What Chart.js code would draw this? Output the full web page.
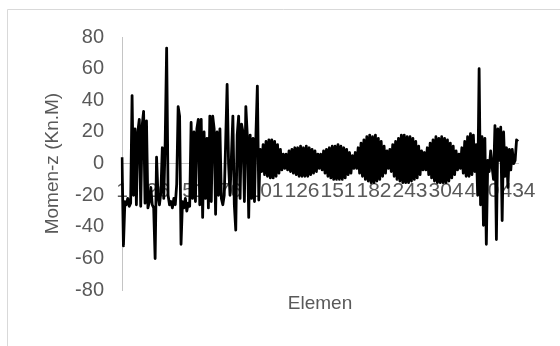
<!DOCTYPE html>
<html lang="id">
<head>
<meta charset="utf-8">
<title>Momen-z per Elemen</title>
<script src="https://cdn.jsdelivr.net/npm/chart.js@4.4.1/dist/chart.umd.min.js"></script>
<style>
  html, body { margin: 0; padding: 0; background: #fff; }
  #wrap { position: relative; width: 560px; height: 346px; }
</style>
</head>
<body>
<div id="wrap"><canvas id="momentChart"></canvas></div>
<script>
// Tick labels shown on the category axis (one every 25 elements)
const tickLabels = ['1', '26', '51', '76', '101', '126', '151', '182', '243', '304', '400', '434'];
const labelStep = 25;

// Momen-z (Kn.M), element by element
const momentStart = [
    4, -52, -24, -26, -22, -27, -25, 43, -20, 22,
    -26, 20, 28, -27, 24, 33, -25, 27, -28, -24,
    -15, -26, -28, -60, 4, -20, -26, -18, 10, -22,
    14, 73, -20, -26, -24, -28, -22, -26, -13, 36,
    30, -51, -24, -28, -22, -30, -25, -27, 26, -22,
    20, -24, 22, 28, -26, 28, -34, 20, -22, 16,
    -28, 30, -24, 30, 22, -32, 20, -20, 22, -22,
    -26, -20, 14, 50, 0, -20, 5, 30, -26, -42,
    18, 30, -22, 25, 20, -24, 36, 18, -34, 18,
    -22, 16, -24, 18, 49, -23
];

const momentMiddle = [
    9, -5, 12, -7, 14, -8, 15, -9, 15, -9, 14, -8, 12, -6, 9, -4,
    6, -3,
    6, -4, 8, -5, 9, -6, 10, -7, 10, -8, 11, -8, 10, -8, 11, -8, 10, -7, 9, -6, 8, -5, 6, -3,
    6, -4, 8, -6, 9, -8, 10, -9, 11, -10, 11, -10, 12, -10, 11, -10, 10, -9, 9, -7, 7, -6, 5, -3,
    7, -3, 10, -6, 13, -8, 15, -10, 17, -11, 18, -12, 17, -12, 18, -11, 16, -10, 14, -8, 11, -6, 8,
    -3, 9, -5, 12, -8, 14, -10, 16, -11, 18, -12, 18, -12, 17, -12, 17, -11, 16, -10, 14, -9, 11, -7, 8, -4,
    7, -4, 10, -7, 13, -9, 15, -11, 17, -12, 16, -12, 17, -12, 16, -12, 15, -11, 13, -9, 11, -7, 8, -4, 6,
    -3, 10, -6, 14, -8, 17, -8, 19, -7, 18, -5, 12, -20
];

const momentEnd = [
    60, -26, 17, -39, 16, -51, 2, -5, 8, -2,
    -10, 24, -48, 22, 2, 23, -36, 20, -8, 10,
    -15, 9, -4, 9, 0, 2, 15, 14
];

const momentValues = [...momentStart, ...momentMiddle, ...momentEnd];
const elementLabels = momentValues.map((v, i) => (i % labelStep === 0 ? tickLabels[i / labelStep] : ''));

const fontFamily = "'Liberation Sans', Arial, sans-serif";
const textColor = '#595959';
const axisColor = '#c4c4c4';

/**
 * White background plus the thin outer frame of the chart object
 */
const chartFrame = {
    id: 'chartFrame',
    beforeDraw(chart) {
        const ctx = chart.ctx;
        ctx.save();
        ctx.fillStyle = '#ffffff';
        ctx.fillRect(0, 0, chart.width, chart.height);
        ctx.strokeStyle = '#d9d9d9';
        ctx.lineWidth = 1;
        ctx.beginPath();
        ctx.moveTo(7.5, chart.height);
        ctx.lineTo(7.5, 9.5);
        ctx.lineTo(chart.width, 9.5);
        ctx.stroke();
        ctx.restore();
    }
};

/**
 * Build the line chart
 */
function initializeMomentChart(canvasId) {
    const canvas = document.getElementById(canvasId);
    if (!canvas) {
        console.error(`Canvas element with ID '${canvasId}' not found`);
        return null;
    }

    return new Chart(canvas.getContext('2d'), {
        type: 'line',
        data: {
            labels: elementLabels,
            datasets: [{
                label: 'Momen-z',
                data: momentValues,
                borderColor: '#000000',
                borderWidth: 2.8,
                borderJoinStyle: 'round',
                pointRadius: 0,
                tension: 0,
                fill: false
            }]
        },
        options: {
            responsive: true,
            maintainAspectRatio: false,
            animation: false,
            devicePixelRatio: 1,
            layout: {
                padding: { top: 37, right: 42, bottom: 29, left: 7 }
            },
            plugins: {
                legend: { display: false },
                tooltip: { enabled: false }
            },
            scales: {
                x: {
                    type: 'category',
                    position: { y: 0 },
                    offset: false,
                    grid: { display: false, drawTicks: false },
                    border: { display: true, color: axisColor, width: 1 },
                    ticks: {
                        autoSkip: false,
                        maxRotation: 0,
                        minRotation: 0,
                        padding: 15,
                        color: textColor,
                        font: { family: fontFamily, size: 21 }
                    }
                },
                x2: {
                    type: 'category',
                    position: 'bottom',
                    offset: false,
                    grid: { display: false, drawTicks: false },
                    border: { display: false },
                    ticks: { display: false },
                    title: {
                        display: true,
                        text: 'Elemen',
                        color: textColor,
                        font: { family: fontFamily, size: 19 },
                        padding: { top: 2, bottom: 2 }
                    }
                },
                y: {
                    type: 'linear',
                    position: 'left',
                    min: -80,
                    max: 80,
                    grid: { display: false, drawTicks: false },
                    border: { display: true, color: axisColor, width: 1 },
                    ticks: {
                        stepSize: 20,
                        padding: 18,
                        color: textColor,
                        font: { family: fontFamily, size: 20 }
                    },
                    title: {
                        display: true,
                        text: 'Momen-z (Kn.M)',
                        color: textColor,
                        font: { family: fontFamily, size: 19 },
                        padding: { top: 34, bottom: 0 }
                    },
                    afterFit(scale) {
                        scale.width = 115;
                    }
                }
            }
        },
        plugins: [chartFrame]
    });
}

const momentChart = initializeMomentChart('momentChart');
</script>
</body>
</html>
